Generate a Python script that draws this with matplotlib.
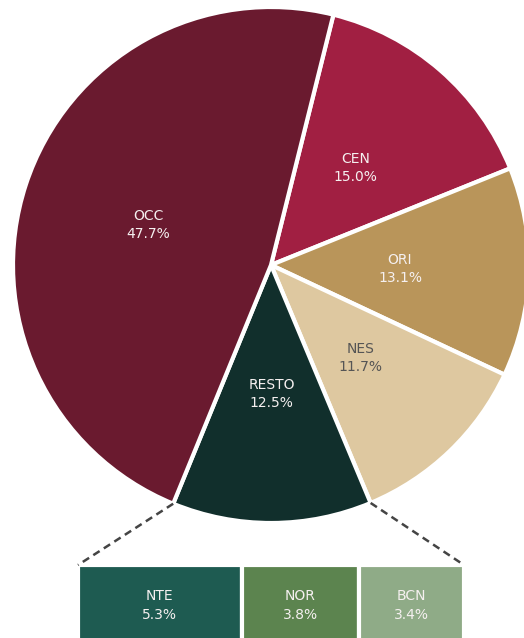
import numpy as np
import matplotlib
matplotlib.use("Agg")
import matplotlib.pyplot as plt

plt.rcParams['font.family'] = ['DejaVu Sans']

# main split
regions = ["CEN", "ORI", "NES", "RESTO", "OCC"]
shares = [15.0, 13.1, 11.7, 12.5, 47.7]
colors = ["#a11f42", "#b9955a", "#dec8a0", "#112f2c", "#6a1a2f"]
text_colors = ["#f5f0f0", "#f5f0f0", "#555555", "#f5f0f0", "#f5f0f0"]

# breakdown of RESTO
sub_regions = ["NTE", "NOR", "BCN"]
sub_shares = [5.3, 3.8, 3.4]
sub_colors = ["#1e5b51", "#5c844f", "#8fab87"]

W, H = 524, 638
fig = plt.figure(figsize=(W / 100, H / 100), dpi=100)
ax = fig.add_axes([0, 0, 1, 1])

cx, cy, R = 271, H - 265, 258
wedges, _ = ax.pie(shares, colors=colors, startangle=76, counterclock=False,
                   center=(cx, cy), radius=R, frame=True,
                   wedgeprops=dict(edgecolor="white", linewidth=3))
ax.set_xlim(0, W)
ax.set_ylim(0, H)
ax.set_aspect("equal")
ax.axis("off")

for w, name, val, tc in zip(wedges, regions, shares, text_colors):
    mid = np.deg2rad((w.theta1 + w.theta2) / 2)
    x = cx + 0.5 * R * np.cos(mid)
    y = cy + 0.5 * R * np.sin(mid)
    ax.text(x, y + 9, name, ha="center", va="center", color=tc, fontsize=10)
    ax.text(x, y - 9, f"{val:.1f}%", ha="center", va="center", color=tc, fontsize=10)

# stacked bar for the RESTO breakdown
bar_left, bar_right = 78, 464
bar_top = H - 565
scale = (bar_right - bar_left) / sum(sub_shares)
left = bar_left
for name, val, c in zip(sub_regions, sub_shares, sub_colors):
    width = val * scale
    ax.bar(left, bar_top + 20, width=width, bottom=-20, align="edge", color=c,
           edgecolor="white", linewidth=3)
    ax.text(left + width / 2, bar_top - 31, name, ha="center", va="center",
            color="#f5f0f0", fontsize=10)
    ax.text(left + width / 2, bar_top - 50, f"{val:.1f}%", ha="center", va="center",
            color="#f5f0f0", fontsize=10)
    left += width

# connectors from the RESTO wedge to the bar
resto = wedges[regions.index("RESTO")]
for ang, bx in [(resto.theta1, bar_left), (resto.theta2, bar_right)]:
    a = np.deg2rad(ang)
    ax.plot([cx + R * np.cos(a), bx], [cy + R * np.sin(a), bar_top],
            color="#444444", linestyle=(0, (3, 2)), linewidth=1.8)

fig.savefig("out.png", dpi=100)
